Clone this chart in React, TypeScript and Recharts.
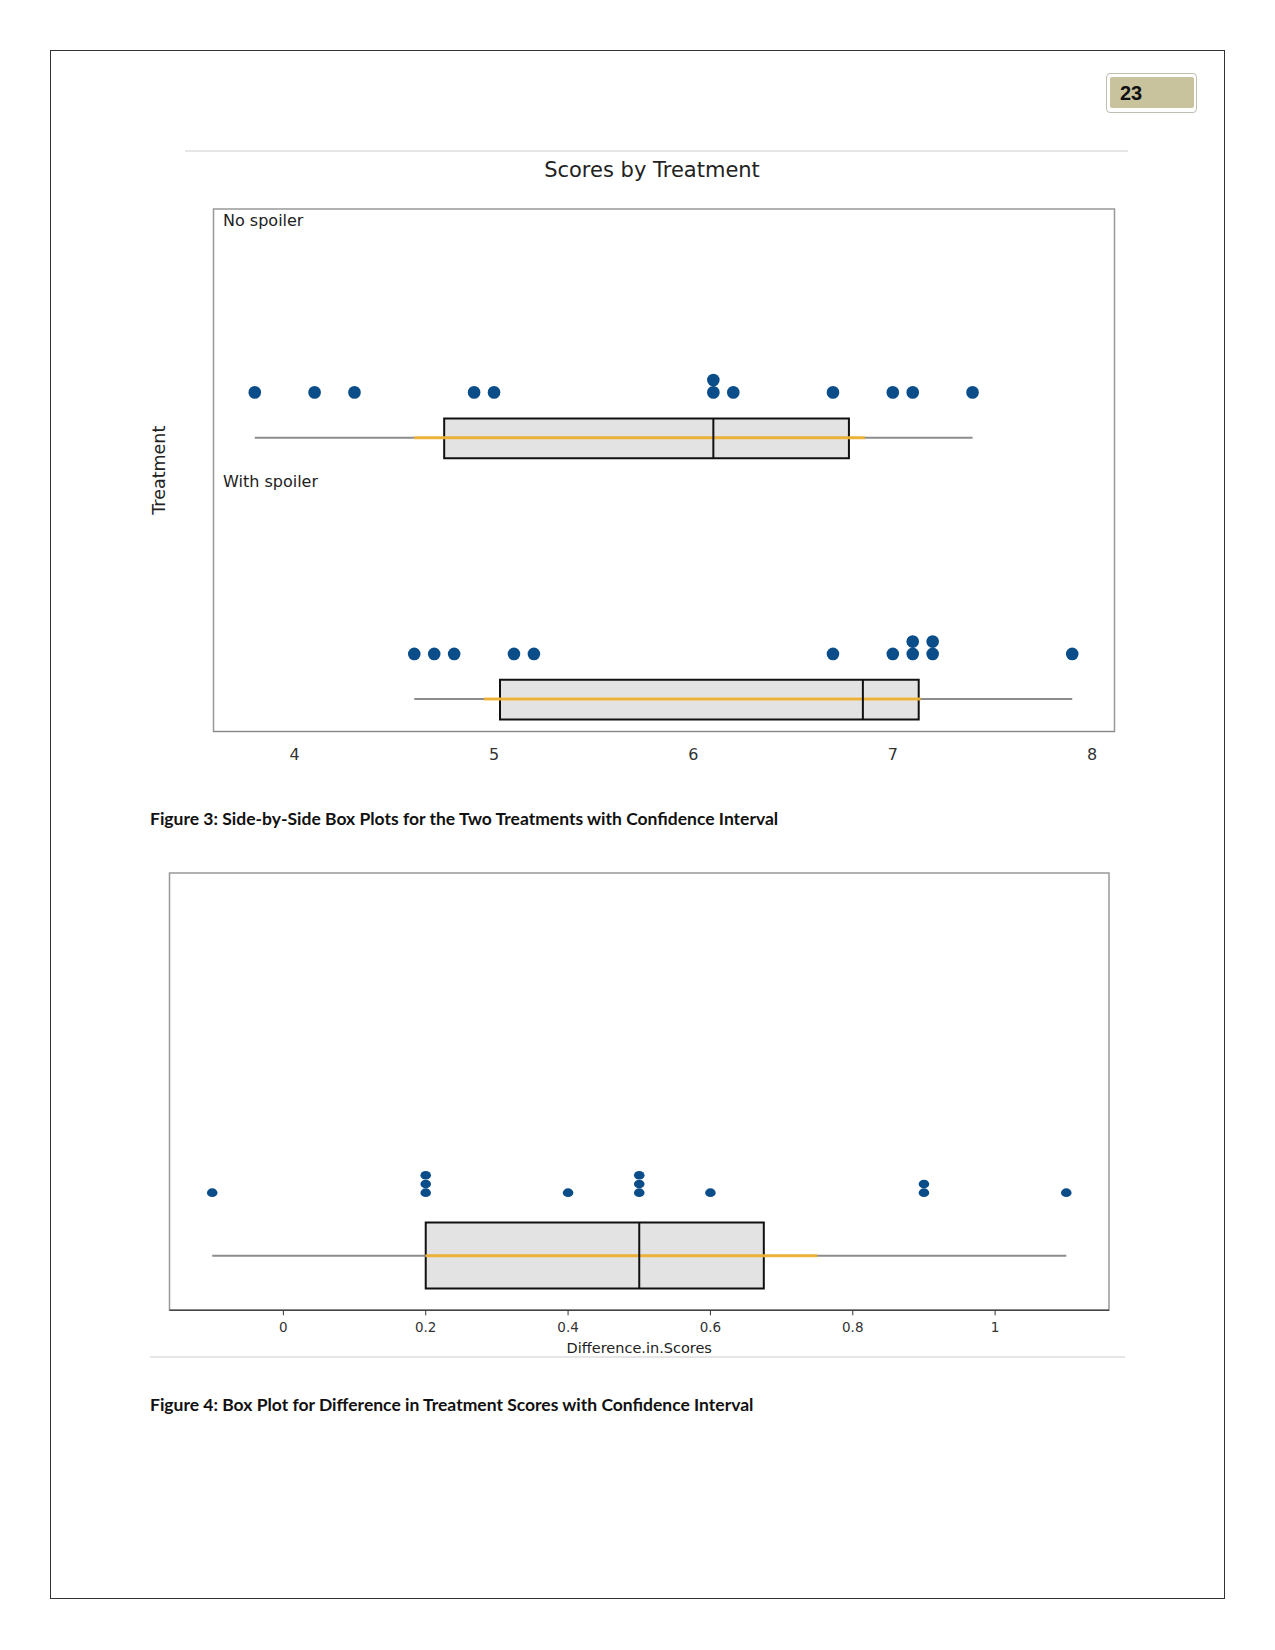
import React from 'react';
import { ComposedChart, Scatter, XAxis, YAxis, ReferenceArea, ReferenceLine } from 'recharts';

// scores per treatment
const noSpoiler = [3.8, 4.1, 4.3, 4.9, 5.0, 6.1, 6.1, 6.2, 6.7, 7.0, 7.1, 7.4];
const withSpoiler = [4.6, 4.7, 4.8, 5.1, 5.2, 6.7, 7.0, 7.1, 7.1, 7.2, 7.2, 7.9];
const diffScores = [-0.1, 0.2, 0.2, 0.2, 0.4, 0.5, 0.5, 0.5, 0.6, 0.9, 0.9, 1.1];

// box stats: min, q1, median, q3, max
const noSpoilerBox = [3.8, 4.75, 6.1, 6.78, 7.4];
const withSpoilerBox = [4.6, 5.03, 6.85, 7.13, 7.9];
const diffBox = [-0.1, 0.2, 0.5, 0.675, 1.1];

// confidence intervals (orange lines)
const noSpoilerCI = [4.6, 6.86];
const withSpoilerCI = [4.95, 7.14];
const diffCI = [0.2, 0.75];

const scoreTicks = [4, 5, 6, 7, 8];
const diffTicks = [0, 0.2, 0.4, 0.6, 0.8, 1];

const DOT = '#0b4d89';
const ORANGE = '#f5b52e';
const FONT = '"DejaVu Sans", Verdana, sans-serif';

// stack repeated values upwards
const stackDots = (vals: number[], base: number, step: number) => {
  const seen: Record<string, number> = {};
  return vals.map((v) => {
    const k = v.toFixed(3);
    const lvl = seen[k] || 0;
    seen[k] = lvl + 1;
    return { x: v, y: base + lvl * step };
  });
};

const boxParts = (box: number[], ci: number[], bot: number, top: number, mid: number, key: string) => [
  <ReferenceLine key={key + 'w'} segment={[{ x: box[0], y: mid }, { x: box[4], y: mid }]} stroke="#8c8c8c" strokeWidth={2} />,
  <ReferenceArea key={key + 'b'} x1={box[1]} x2={box[3]} y1={bot} y2={top} fill="#e3e3e3" fillOpacity={1} stroke="#111" strokeWidth={2} />,
  <ReferenceLine key={key + 'c'} segment={[{ x: ci[0], y: mid }, { x: ci[1], y: mid }]} stroke={ORANGE} strokeWidth={3} strokeOpacity={0.9} />,
  <ReferenceLine key={key + 'm'} segment={[{ x: box[2], y: bot }, { x: box[2], y: top }]} stroke="#111" strokeWidth={2} />,
];

const PanelLabel = (text: string) => (props: any) => {
  const vb = props.viewBox;
  return (
    <text x={vb.x + 9.5} y={vb.y + 11} dominantBaseline="central" fontSize={16} fontFamily={FONT} fill="#222">
      {text}
    </text>
  );
};

const TreatmentLabel = (props: any) => {
  const vb = props.viewBox;
  const cx = vb.x + 19;
  const cy = vb.y + vb.height / 2;
  return (
    <text x={cx} y={cy} transform={`rotate(-90 ${cx} ${cy})`} textAnchor="middle" dominantBaseline="central" fontSize={17.5} fontFamily={FONT} fill="#222">
      Treatment
    </text>
  );
};

const DiffLabel = (props: any) => {
  const vb = props.viewBox;
  return (
    <text x={vb.x + vb.width / 2} y={vb.y + 37.5} textAnchor="middle" dominantBaseline="central" fontSize={14.5} fontFamily={FONT} fill="#222">
      Difference.in.Scores
    </text>
  );
};

const Oval = (rx: number, ry: number) => (p: any) => <ellipse cx={p.cx} cy={p.cy} rx={rx} ry={ry} fill={DOT} />;

const ScoresChart = () => {
  const dom: [number, number] = [3.593, 8.112];
  return (
    <ComposedChart width={1000} height={600} margin={{ top: 19, right: 25.5, left: 0, bottom: 18.5 }}>
      <XAxis type="number" dataKey="x" domain={dom} ticks={scoreTicks} allowDataOverflow tickLine={false} tickSize={0} tickMargin={17} axisLine={{ stroke: '#888' }} height={40} tick={{ fontSize: 16, fontFamily: FONT, fill: '#333' }} />
      <YAxis type="number" dataKey="y" domain={[0, 100]} width={73.5} tick={false} tickLine={false} axisLine={false} label={{ content: TreatmentLabel }} />
      <ReferenceArea x1={dom[0]} x2={dom[1]} y1={0} y2={100} fill="none" stroke="#999" strokeWidth={1.5} />
      <ReferenceArea x1={dom[0]} x2={dom[1]} y1={50} y2={100} fill="none" strokeOpacity={0} label={{ content: PanelLabel('No spoiler') }} />
      <ReferenceArea x1={dom[0]} x2={dom[1]} y1={0} y2={50} fill="none" strokeOpacity={0} label={{ content: PanelLabel('With spoiler') }} />
      {boxParts(noSpoilerBox, noSpoilerCI, 52.3, 59.9, 56.2, 'a')}
      {boxParts(withSpoilerBox, withSpoilerCI, 2.3, 9.9, 6.2, 'b')}
      <Scatter data={stackDots(noSpoiler, 64.9, 2.36)} shape={Oval(6.3, 6.4)} isAnimationActive={false} />
      <Scatter data={stackDots(withSpoiler, 14.85, 2.36)} shape={Oval(6.3, 6.4)} isAnimationActive={false} />
    </ComposedChart>
  );
};

const DiffChart = () => {
  const dom: [number, number] = [-0.16, 1.16];
  return (
    <ComposedChart width={1000} height={500} margin={{ top: 13, right: 31, left: 29.5, bottom: 1.7 }}>
      <XAxis type="number" dataKey="x" domain={dom} ticks={diffTicks} allowDataOverflow tickSize={5} tickMargin={7} tickLine={{ stroke: '#333' }} axisLine={{ stroke: '#444', strokeWidth: 1.5 }} height={48} tick={{ fontSize: 13.5, fontFamily: FONT, fill: '#333' }} label={{ content: DiffLabel }} />
      <YAxis type="number" dataKey="y" domain={[0, 100]} hide />
      <ReferenceArea x1={dom[0]} x2={dom[1]} y1={0} y2={100} fill="none" stroke="#999" strokeWidth={1.5} />
      {boxParts(diffBox, diffCI, 4.97, 20.07, 12.5, 'd')}
      <Scatter data={stackDots(diffScores, 26.9, 1.99)} shape={Oval(5.3, 4.3)} isAnimationActive={false} />
    </ComposedChart>
  );
};

const caption: React.CSSProperties = {
  position: 'absolute',
  left: 150,
  fontFamily: 'Lato, "Liberation Sans", sans-serif',
  fontWeight: 700,
  fontSize: 17.5,
  color: '#111',
  whiteSpace: 'nowrap',
  transform: 'translateY(-50%)',
};

export default function App() {
  return (
    <div style={{ position: 'absolute', left: 0, top: 0, width: 1275, height: 1650, background: '#fff' }}>
      <div style={{ position: 'absolute', left: 49.5, top: 49.5, width: 1175, height: 1549.5, border: '1px solid #333', boxSizing: 'border-box' }} />
      <div style={{ position: 'absolute', left: 1106, top: 72.5, width: 91, height: 40, border: '1px solid #bdbdb0', borderRadius: 4, boxSizing: 'border-box', background: '#fff' }}>
        <div style={{ position: 'absolute', left: 2.5, top: 3.5, right: 2.5, bottom: 3.5, background: '#c8c39c', borderRadius: 2 }}>
          <span style={{ position: 'absolute', left: 10.5, top: '50%', transform: 'translateY(-50%)', fontFamily: '"Liberation Sans", Arial, sans-serif', fontWeight: 700, fontSize: 20, color: '#111' }}>23</span>
        </div>
      </div>
      <div style={{ position: 'absolute', left: 185, top: 149.5, width: 943, height: 2, background: '#e6e6e6' }} />
      <div style={{ position: 'absolute', left: 0, width: 1304, top: 170, transform: 'translateY(-50%)', textAlign: 'center', fontFamily: FONT, fontSize: 21, color: '#222' }}>Scores by Treatment</div>
      <div style={{ position: 'absolute', left: 140, top: 190 }}>
        <ScoresChart />
      </div>
      <div style={{ ...caption, top: 818 }}>Figure 3: Side-by-Side Box Plots for the Two Treatments with Confidence Interval</div>
      <div style={{ position: 'absolute', left: 140, top: 860 }}>
        <DiffChart />
      </div>
      <div style={{ position: 'absolute', left: 150, top: 1356, width: 975, height: 2, background: '#e6e6e6' }} />
      <div style={{ ...caption, top: 1404 }}>Figure 4: Box Plot for Difference in Treatment Scores with Confidence Interval</div>
    </div>
  );
}
